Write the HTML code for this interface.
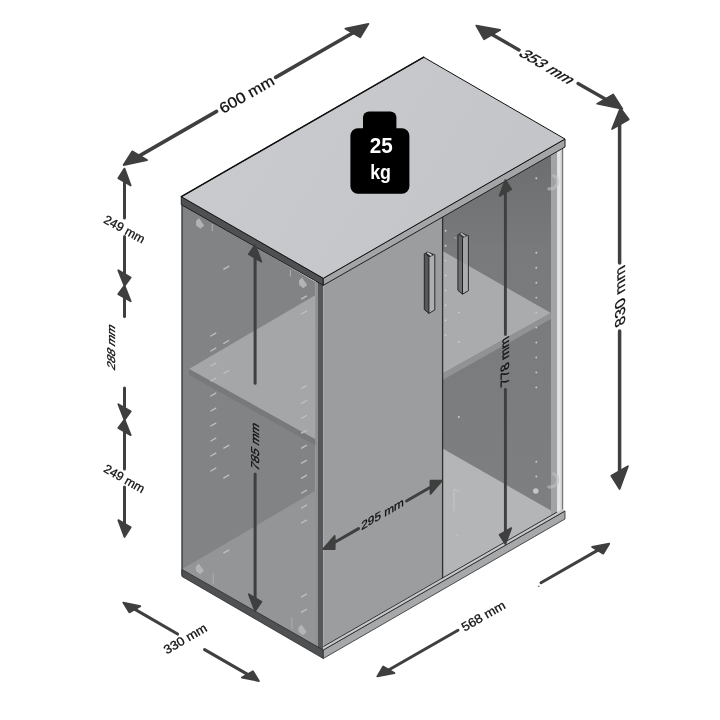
<!DOCTYPE html>
<html><head><meta charset="utf-8"><title>Cabinet dimensions</title>
<style>
html,body{margin:0;padding:0;background:#fff;}
body{width:720px;height:720px;overflow:hidden;font-family:"Liberation Sans",sans-serif;}
svg{display:block;will-change:transform;}
</style></head><body>
<svg width="720" height="720" viewBox="0 0 720 720">
<defs>
<linearGradient id="gri" gradientUnits="userSpaceOnUse" x1="0" y1="160" x2="0" y2="520"><stop offset="0" stop-color="#6c6e70"/><stop offset="0.25" stop-color="#787a7c"/><stop offset="1" stop-color="#7d7f81"/></linearGradient>
<linearGradient id="gtop" gradientUnits="userSpaceOnUse" x1="250" y1="100" x2="480" y2="240"><stop offset="0" stop-color="#c8cacd"/><stop offset="1" stop-color="#c3c5c8"/></linearGradient>
<linearGradient id="gedge" gradientUnits="userSpaceOnUse" x1="557" y1="0" x2="562.2" y2="0"><stop offset="0" stop-color="#dcdee0"/><stop offset="0.5" stop-color="#e2e4e6"/><stop offset="1" stop-color="#c2c4c6"/></linearGradient>
</defs>
<rect width="720" height="720" fill="#fff"/>
<polygon points="182.0,204.5 315.6,281.9 315.6,646.9 182.0,569.5" fill="#818385"/>
<polygon points="189.0,369.0 315.6,294.9 315.6,439.5" fill="#a4a6a8"/>
<polygon points="189.0,369.0 315.6,439.5 315.6,445.5 189.0,375.0" fill="#77797b"/>
<polygon points="183.0,568.5 315.6,490.7 315.6,647.3 183.0,570.5" fill="#939597"/>
<line x1="210.8" y1="336.0" x2="215.8" y2="333.2" stroke="#bdbfc1" stroke-width="1.35" stroke-linecap="round"/>
<line x1="210.8" y1="351.0" x2="215.8" y2="348.2" stroke="#bdbfc1" stroke-width="1.35" stroke-linecap="round"/>
<line x1="210.8" y1="366.0" x2="215.8" y2="363.2" stroke="#bdbfc1" stroke-width="1.35" stroke-linecap="round"/>
<line x1="210.8" y1="381.0" x2="215.8" y2="378.2" stroke="#bdbfc1" stroke-width="1.35" stroke-linecap="round"/>
<line x1="210.8" y1="396.0" x2="215.8" y2="393.2" stroke="#bdbfc1" stroke-width="1.35" stroke-linecap="round"/>
<line x1="210.8" y1="411.0" x2="215.8" y2="408.2" stroke="#bdbfc1" stroke-width="1.35" stroke-linecap="round"/>
<line x1="210.8" y1="426.0" x2="215.8" y2="423.2" stroke="#bdbfc1" stroke-width="1.35" stroke-linecap="round"/>
<line x1="210.8" y1="441.0" x2="215.8" y2="438.2" stroke="#bdbfc1" stroke-width="1.35" stroke-linecap="round"/>
<line x1="210.8" y1="456.0" x2="215.8" y2="453.2" stroke="#bdbfc1" stroke-width="1.35" stroke-linecap="round"/>
<line x1="210.8" y1="471.0" x2="215.8" y2="468.2" stroke="#bdbfc1" stroke-width="1.35" stroke-linecap="round"/>
<line x1="223.8" y1="269.1" x2="228.8" y2="266.3" stroke="#bdbfc1" stroke-width="1.35" stroke-linecap="round"/>
<line x1="223.8" y1="343.3" x2="228.8" y2="340.5" stroke="#bdbfc1" stroke-width="1.35" stroke-linecap="round"/>
<line x1="223.8" y1="373.5" x2="228.8" y2="370.7" stroke="#bdbfc1" stroke-width="1.35" stroke-linecap="round"/>
<line x1="223.8" y1="448.1" x2="228.8" y2="445.3" stroke="#bdbfc1" stroke-width="1.35" stroke-linecap="round"/>
<line x1="223.8" y1="477.9" x2="228.8" y2="475.1" stroke="#bdbfc1" stroke-width="1.35" stroke-linecap="round"/>
<line x1="223.8" y1="552.9" x2="228.8" y2="550.1" stroke="#bdbfc1" stroke-width="1.35" stroke-linecap="round"/>
<line x1="301.5" y1="388.4" x2="306.5" y2="385.6" stroke="#bdbfc1" stroke-width="1.35" stroke-linecap="round"/>
<line x1="301.5" y1="403.3" x2="306.5" y2="400.6" stroke="#bdbfc1" stroke-width="1.35" stroke-linecap="round"/>
<line x1="301.5" y1="418.3" x2="306.5" y2="415.5" stroke="#bdbfc1" stroke-width="1.35" stroke-linecap="round"/>
<line x1="301.5" y1="433.2" x2="306.5" y2="430.5" stroke="#bdbfc1" stroke-width="1.35" stroke-linecap="round"/>
<line x1="301.5" y1="448.2" x2="306.5" y2="445.4" stroke="#bdbfc1" stroke-width="1.35" stroke-linecap="round"/>
<line x1="301.5" y1="463.1" x2="306.5" y2="460.4" stroke="#bdbfc1" stroke-width="1.35" stroke-linecap="round"/>
<line x1="301.5" y1="478.1" x2="306.5" y2="475.3" stroke="#bdbfc1" stroke-width="1.35" stroke-linecap="round"/>
<line x1="301.5" y1="493.0" x2="306.5" y2="490.3" stroke="#bdbfc1" stroke-width="1.35" stroke-linecap="round"/>
<line x1="301.5" y1="508.0" x2="306.5" y2="505.2" stroke="#bdbfc1" stroke-width="1.35" stroke-linecap="round"/>
<line x1="301.5" y1="522.9" x2="306.5" y2="520.2" stroke="#bdbfc1" stroke-width="1.35" stroke-linecap="round"/>
<line x1="301.5" y1="298.9" x2="306.5" y2="296.1" stroke="#bdbfc1" stroke-width="1.35" stroke-linecap="round"/>
<line x1="301.5" y1="313.9" x2="306.5" y2="311.1" stroke="#bdbfc1" stroke-width="1.35" stroke-linecap="round"/>
<line x1="301.5" y1="596.9" x2="306.5" y2="594.1" stroke="#bdbfc1" stroke-width="1.35" stroke-linecap="round"/>
<line x1="301.5" y1="612.2" x2="306.5" y2="609.4" stroke="#bdbfc1" stroke-width="1.35" stroke-linecap="round"/>
<polygon points="196.0,221.0 199.0,218.0 204.2,225.6 200.4,228.8 196.2,225.6" fill="#b6b8ba" opacity="0.9"/>
<line x1="212.3" y1="224" x2="212.3" y2="231" stroke="#a9abad" stroke-width="1.2"/>
<polygon points="299.0,280.4 302.0,277.4 307.2,285.0 303.4,288.2 299.2,285.0" fill="#b6b8ba" opacity="0.9"/>
<line x1="290.4" y1="270" x2="290.4" y2="276.5" stroke="#a9abad" stroke-width="1.2"/>
<polygon points="195.8,566.4 198.8,563.4 204.0,571.0 200.2,574.2 196.0,571.0" fill="#b6b8ba" opacity="0.9"/>
<line x1="213.3" y1="573" x2="213.3" y2="584" stroke="#a9abad" stroke-width="1.2"/>
<polygon points="298.5,627.4 301.5,624.4 306.7,632.0 302.9,635.2 298.7,632.0" fill="#b6b8ba" opacity="0.9"/>
<line x1="291.8" y1="617.5" x2="291.8" y2="629" stroke="#a9abad" stroke-width="1.2"/>
<polyline points="182.0,204.5 182.0,575.5" fill="none" stroke="#3a3c3e" stroke-width="1.4"/>
<polygon points="315.4,280.9 317.6,281.9 317.6,650.0 315.4,648.5" fill="#8c8e90"/>
<polygon points="317.6,281.9 323.3,285.0 323.3,651.0 317.6,649.0" fill="#55575a"/>
<polygon points="442.6,216.6 563.0,147.4 563.0,510.1 442.6,579.3" fill="url(#gri)"/>
<polygon points="442.6,251.0 551.0,313.0 442.6,373.5" fill="#a9abad"/>
<polygon points="442.6,373.5 551.0,313.0 551.0,319.0 442.6,380.0" fill="#909294"/>
<polygon points="442.6,448.5 551.0,510.5 551.0,517.0 442.6,579.3" fill="#b3b5b7"/>
<circle cx="445.6" cy="230.8" r="0.95" fill="#c9cbcd"/>
<circle cx="445.6" cy="245.7" r="0.95" fill="#c9cbcd"/>
<circle cx="445.6" cy="260.6" r="0.95" fill="#c9cbcd"/>
<circle cx="445.6" cy="275.5" r="0.95" fill="#c9cbcd"/>
<circle cx="445.6" cy="290.4" r="0.95" fill="#c9cbcd"/>
<circle cx="445.6" cy="305.3" r="0.95" fill="#c9cbcd"/>
<circle cx="445.6" cy="320.2" r="0.95" fill="#c9cbcd"/>
<circle cx="445.6" cy="335.1" r="0.95" fill="#c9cbcd"/>
<circle cx="458.8" cy="282.7" r="0.95" fill="#c9cbcd"/>
<circle cx="458.8" cy="312.5" r="0.95" fill="#c9cbcd"/>
<circle cx="458.8" cy="342.0" r="0.95" fill="#c9cbcd"/>
<circle cx="458.8" cy="417.0" r="0.95" fill="#c9cbcd"/>
<circle cx="536.3" cy="252.8" r="0.95" fill="#c9cbcd"/>
<circle cx="536.3" cy="267.8" r="0.95" fill="#c9cbcd"/>
<circle cx="536.3" cy="282.7" r="0.95" fill="#c9cbcd"/>
<circle cx="536.3" cy="297.6" r="0.95" fill="#c9cbcd"/>
<circle cx="536.3" cy="312.6" r="0.95" fill="#c9cbcd"/>
<circle cx="536.3" cy="327.6" r="0.95" fill="#c9cbcd"/>
<circle cx="536.3" cy="342.5" r="0.95" fill="#c9cbcd"/>
<circle cx="536.3" cy="357.4" r="0.95" fill="#c9cbcd"/>
<circle cx="536.3" cy="372.4" r="0.95" fill="#c9cbcd"/>
<circle cx="536.3" cy="387.4" r="0.95" fill="#c9cbcd"/>
<circle cx="536.3" cy="178.3" r="0.95" fill="#c9cbcd"/>
<circle cx="536.3" cy="461.7" r="0.95" fill="#c9cbcd"/>
<circle cx="536.3" cy="476.5" r="0.95" fill="#c9cbcd"/>
<circle cx="535.8" cy="491.0" r="2.8" fill="#c4c6c8"/>
<path d="M454,489 l5.5,3 M454,489 l0,22" stroke="#c6c8ca" stroke-width="0.9" fill="none"/>
<path d="M455,534 l4,2.4" stroke="#c9c3bd" stroke-width="0.9" fill="none"/>
<polygon points="551.0,154.3 557.0,150.8 557.0,513.5 551.0,517.0" fill="#a1a3a5"/>
<polygon points="557.0,150.8 562.2,147.8 562.2,510.5 557.0,513.5" fill="url(#gedge)"/>
<polygon points="562.2,147.8 563.2,147.2 563.2,509.9 562.2,510.5" fill="#707274"/>
<path d="M553.6,175.6 q5.2,2.6 3.8,8.2 q-2.2,5.6 -8.6,5.0" fill="none" stroke="#bfc1c3" stroke-width="3.2" stroke-linecap="round" opacity="0.6"/>
<path d="M553.6,473.8 q5.2,2.6 3.8,8.2 q-2.2,5.6 -8.6,5.0" fill="none" stroke="#bfc1c3" stroke-width="3.2" stroke-linecap="round" opacity="0.6"/>
<polygon points="323.3,285.3 442.6,216.6 442.6,577.8 323.3,646.5" fill="#9b9d9f"/>
<line x1="442.6" y1="216.6" x2="442.6" y2="579.3" stroke="#2e3032" stroke-width="1.3"/>
<polygon points="182.0,569.5 323.3,650.0 323.3,658.5 182.0,576.5" fill="#4f5153" stroke="#2a2c2e" stroke-width="0.8"/>
<polygon points="323.3,650.0 565.0,511.0 565.0,519.0 323.3,658.5" fill="#a6a8aa" stroke="#2a2c2e" stroke-width="0.8"/>
<polygon points="323.3,646.8 562.5,509.2 565.0,511.0 323.3,650.0" fill="#c6c8ca"/>
<line x1="323.3" y1="646.6" x2="557" y2="512.1" stroke="#303234" stroke-width="1.0"/>
<line x1="323.3" y1="650.0" x2="565.0" y2="511.0" stroke="#303234" stroke-width="1.0"/>
<polygon points="181.3,196.7 323.3,278.3 323.3,285.3 181.3,204.7" fill="#4e5052" stroke="#1c1e20" stroke-width="1"/>
<polygon points="323.3,278.3 565.0,139.0 565.0,147.0 323.3,285.3" fill="#a3a5a7" stroke="#1c1e20" stroke-width="1"/>
<polygon points="181.3,196.7 423.7,57.2 565.0,139.0 323.3,278.3" fill="url(#gtop)" stroke="#111" stroke-width="1"/>
<line x1="181.3" y1="196.7" x2="423.7" y2="57.2" stroke="#111" stroke-width="1.5" stroke-linecap="round"/>
<g opacity="1.0"><polygon points="424.3,253.5 428.9,257.4 428.9,313.4 424.3,309.5" fill="#55575a"/><polygon points="428.9,257.4 434.8,254.5 434.8,309.9 428.9,313.4" fill="#adafb1"/><polygon points="424.3,253.5 427.4,251.5 434.8,254.5 428.9,257.4" fill="#2a2c2e"/><polygon points="426.5,252.9 427.9,252.3 432.3,255.1 430.7,255.9" fill="#d4d6d8"/></g><path d="M424.3,253.5 L424.3,309.5 L428.9,313.4 L434.8,309.9 L434.8,254.5" fill="none" stroke="#1c1e20" stroke-width="0.9"/><line x1="428.9" y1="257.4" x2="428.9" y2="313.4" stroke="#1c1e20" stroke-width="1.0"/>
<g opacity="0.78"><polygon points="457.9,234.3 462.5,238.2 462.5,294.2 457.9,290.3" fill="#5d5f61"/><polygon points="462.5,238.2 468.4,235.3 468.4,290.7 462.5,294.2" fill="#acaeb0"/><polygon points="457.9,234.3 461.0,232.3 468.4,235.3 462.5,238.2" fill="#2a2c2e"/><polygon points="460.1,233.7 461.5,233.1 465.9,235.9 464.3,236.7" fill="#d4d6d8"/></g><path d="M457.9,234.3 L457.9,290.3 L462.5,294.2 L468.4,290.7 L468.4,235.3" fill="none" stroke="#1c1e20" stroke-width="0.9"/><line x1="462.5" y1="238.2" x2="462.5" y2="294.2" stroke="#1c1e20" stroke-width="1.0"/>
<path d="M454.0,237.4 l2.6,1.2 M454.0,281.8 l2.6,1.2" stroke="#a9abad" stroke-width="1" fill="none"/>
<rect x="363" y="111.6" width="33.4" height="30" rx="6" fill="#000"/>
<rect x="350.4" y="128.3" width="59" height="65.4" rx="7.5" fill="#000"/>
<text x="381.2" y="152.6" font-family="Liberation Sans, sans-serif" font-weight="bold" font-size="21.2" fill="#fff" text-anchor="middle" textLength="23" lengthAdjust="spacingAndGlyphs">25</text>
<text x="380.6" y="179.4" font-family="Liberation Sans, sans-serif" font-weight="bold" font-size="21" fill="#fff" text-anchor="middle" textLength="20.8" lengthAdjust="spacingAndGlyphs">kg</text>
<line x1="137.6" y1="156.9" x2="216.6" y2="111.4" stroke="#3f3f3f" stroke-width="3.6" stroke-linecap="round"/>
<line x1="275.6" y1="77.4" x2="354.4" y2="32.0" stroke="#3f3f3f" stroke-width="3.6" stroke-linecap="round"/>
<polygon points="123.6,165.0 147.0,160.1 132.2,151.4" fill="#3f3f3f" stroke="#3f3f3f" stroke-width="1.8" stroke-linejoin="round"/>
<polygon points="368.4,23.9 360.2,37.2 345.4,28.6" fill="#3f3f3f" stroke="#3f3f3f" stroke-width="1.8" stroke-linejoin="round"/>
<text transform="matrix(0.9709,-0.5583,0.4985,0.8669,246.6,94.2)" y="5.40" font-family="Liberation Sans, sans-serif" font-size="15" fill="#111" stroke="#111" stroke-width="0.3" text-anchor="middle">600 mm</text>
<line x1="490.3" y1="33.6" x2="519.0" y2="49.9" stroke="#3f3f3f" stroke-width="3.4" stroke-linecap="round"/>
<line x1="578.0" y1="83.6" x2="607.4" y2="100.3" stroke="#3f3f3f" stroke-width="3.4" stroke-linecap="round"/>
<polygon points="476.3,25.6 500.1,30.0 484.1,39.2" fill="#3f3f3f" stroke="#3f3f3f" stroke-width="1.8" stroke-linejoin="round"/>
<polygon points="622.4,108.9 613.2,94.5 597.2,103.7" fill="#3f3f3f" stroke="#3f3f3f" stroke-width="1.8" stroke-linejoin="round"/>
<text transform="matrix(1.0000,0.5850,-1.0000,0.5765,547.8,66.6)" y="5.04" font-family="Liberation Sans, sans-serif" font-size="14.0" fill="#111" stroke="#111" stroke-width="0.3" text-anchor="middle">353 mm</text>
<line x1="619.6" y1="123.0" x2="619.6" y2="263.0" stroke="#3f3f3f" stroke-width="3.5" stroke-linecap="round"/>
<line x1="619.6" y1="331.0" x2="619.6" y2="472.0" stroke="#3f3f3f" stroke-width="3.5" stroke-linecap="round"/>
<polygon points="620.4,108.2 628.7,119.4 612.1,129.0" fill="#3f3f3f" stroke="#3f3f3f" stroke-width="1.8" stroke-linejoin="round"/>
<polygon points="619.6,489.0 627.9,466.2 611.3,475.8" fill="#3f3f3f" stroke="#3f3f3f" stroke-width="1.8" stroke-linejoin="round"/>
<text transform="matrix(0.0000,-1.1300,0.9800,-0.5650,619.4,296.7)" y="5.26" font-family="Liberation Sans, sans-serif" font-size="14.6" fill="#111" stroke="#111" stroke-width="0.3" text-anchor="middle">830 mm</text>
<polygon points="124.5,168.6 130.7,185.5 118.3,178.3" fill="#3f3f3f" stroke="#3f3f3f" stroke-width="1.8" stroke-linejoin="round"/>
<line x1="124.5" y1="181.0" x2="124.5" y2="218.0" stroke="#3f3f3f" stroke-width="3.0" stroke-linecap="round"/>
<line x1="124.5" y1="236.5" x2="124.5" y2="273.0" stroke="#3f3f3f" stroke-width="3.0" stroke-linecap="round"/>
<polygon points="124.5,286.0 130.7,277.5 118.3,270.3" fill="#3f3f3f" stroke="#3f3f3f" stroke-width="1.8" stroke-linejoin="round"/>
<polygon points="124.5,285.6 130.7,301.3 118.3,294.1" fill="#3f3f3f" stroke="#3f3f3f" stroke-width="1.8" stroke-linejoin="round"/>
<line x1="124.5" y1="298.0" x2="124.5" y2="316.5" stroke="#3f3f3f" stroke-width="3.0" stroke-linecap="round"/>
<text transform="matrix(0.8788,0.4772,-0.4772,0.8788,124.6,229.0)" y="4.46" font-family="Liberation Sans, sans-serif" font-size="12.4" fill="#111" stroke="#111" stroke-width="0.3" text-anchor="middle">249 mm</text>
<text transform="matrix(0.0000,-1.1000,1.0000,0.5850,111.0,346.5)" y="4.03" font-family="Liberation Sans, sans-serif" font-size="11.2" fill="#111" stroke="#111" stroke-width="0.3" text-anchor="middle">288 mm</text>
<line x1="124.5" y1="388.0" x2="124.5" y2="407.0" stroke="#3f3f3f" stroke-width="3.0" stroke-linecap="round"/>
<polygon points="124.5,419.9 130.7,411.4 118.3,404.2" fill="#3f3f3f" stroke="#3f3f3f" stroke-width="1.8" stroke-linejoin="round"/>
<polygon points="124.5,419.5 130.7,435.2 118.3,428.0" fill="#3f3f3f" stroke="#3f3f3f" stroke-width="1.8" stroke-linejoin="round"/>
<line x1="124.5" y1="432.0" x2="124.5" y2="469.0" stroke="#3f3f3f" stroke-width="3.0" stroke-linecap="round"/>
<text transform="matrix(0.8704,0.4924,-0.4924,0.8704,124.4,478.4)" y="4.46" font-family="Liberation Sans, sans-serif" font-size="12.4" fill="#111" stroke="#111" stroke-width="0.3" text-anchor="middle">249 mm</text>
<line x1="124.5" y1="487.0" x2="124.5" y2="524.0" stroke="#3f3f3f" stroke-width="3.0" stroke-linecap="round"/>
<polygon points="124.5,537.0 130.7,527.3 118.3,520.1" fill="#3f3f3f" stroke="#3f3f3f" stroke-width="1.8" stroke-linejoin="round"/>
<line x1="133.3" y1="608.4" x2="177.6" y2="634.0" stroke="#3f3f3f" stroke-width="3.1" stroke-linecap="round"/>
<line x1="204.6" y1="649.6" x2="248.9" y2="675.2" stroke="#3f3f3f" stroke-width="3.1" stroke-linecap="round"/>
<polygon points="123.3,602.6 140.3,606.1 129.3,612.4" fill="#3f3f3f" stroke="#3f3f3f" stroke-width="1.8" stroke-linejoin="round"/>
<polygon points="258.9,681.0 252.9,671.2 241.9,677.5" fill="#3f3f3f" stroke="#3f3f3f" stroke-width="1.8" stroke-linejoin="round"/>
<text transform="matrix(0.9219,-0.5431,0.5075,0.8616,185.2,638.6)" y="4.46" font-family="Liberation Sans, sans-serif" font-size="12.4" fill="#111" stroke="#111" stroke-width="0.3" text-anchor="middle">330 mm</text>
<line x1="387.3" y1="670.7" x2="458.0" y2="630.2" stroke="#3f3f3f" stroke-width="3.0" stroke-linecap="round"/>
<line x1="541.0" y1="582.7" x2="599.2" y2="549.4" stroke="#3f3f3f" stroke-width="3.0" stroke-linecap="round"/>
<polygon points="377.3,676.4 394.4,673.1 383.2,666.5" fill="#3f3f3f" stroke="#3f3f3f" stroke-width="1.8" stroke-linejoin="round"/>
<polygon points="609.2,543.7 603.3,553.6 592.1,547.0" fill="#3f3f3f" stroke="#3f3f3f" stroke-width="1.8" stroke-linejoin="round"/>
<text transform="matrix(0.9372,-0.5367,0.4970,0.8678,483.2,615.8)" y="4.46" font-family="Liberation Sans, sans-serif" font-size="12.4" fill="#111" stroke="#111" stroke-width="0.3" text-anchor="middle">568 mm</text>
<circle cx="538.8" cy="586.3" r="0.8" fill="#555"/>
<line x1="255.1" y1="257.0" x2="255.1" y2="383.3" stroke="#3f3f3f" stroke-width="3.0" stroke-linecap="round"/>
<line x1="255.1" y1="474.0" x2="255.1" y2="599.0" stroke="#3f3f3f" stroke-width="3.0" stroke-linecap="round"/>
<polygon points="255.1,245.0 261.4,261.7 248.8,254.3" fill="#3f3f3f" stroke="#3f3f3f" stroke-width="1.8" stroke-linejoin="round"/>
<polygon points="255.1,611.0 261.4,601.7 248.8,594.3" fill="#3f3f3f" stroke="#3f3f3f" stroke-width="1.8" stroke-linejoin="round"/>
<text transform="matrix(0.0000,-1.1300,1.0000,0.5850,254.8,446.0)" y="4.10" font-family="Liberation Sans, sans-serif" font-size="11.4" fill="#111" stroke="#111" stroke-width="0.3" text-anchor="middle">785 mm</text>
<line x1="505.4" y1="194.0" x2="505.4" y2="334.5" stroke="#3f3f3f" stroke-width="2.9" stroke-linecap="round"/>
<line x1="505.4" y1="389.5" x2="505.4" y2="531.0" stroke="#3f3f3f" stroke-width="2.9" stroke-linecap="round"/>
<polygon points="505.4,180.0 511.2,189.3 499.6,195.9" fill="#3f3f3f" stroke="#3f3f3f" stroke-width="1.8" stroke-linejoin="round"/>
<polygon points="505.4,544.0 511.2,528.1 499.6,534.7" fill="#3f3f3f" stroke="#3f3f3f" stroke-width="1.8" stroke-linejoin="round"/>
<text transform="matrix(0.0000,-1.1200,1.0000,-0.5765,505.0,361.7)" y="4.32" font-family="Liberation Sans, sans-serif" font-size="12.0" fill="#111" stroke="#111" stroke-width="0.3" text-anchor="middle">778 mm</text>
<line x1="332.2" y1="543.8" x2="358.6" y2="528.6" stroke="#3f3f3f" stroke-width="3.0" stroke-linecap="round"/>
<line x1="406.5" y1="501.0" x2="433.0" y2="485.8" stroke="#3f3f3f" stroke-width="3.0" stroke-linecap="round"/>
<polygon points="323.2,549.0 334.7,549.0 334.7,535.8" fill="#3f3f3f" stroke="#3f3f3f" stroke-width="1.8" stroke-linejoin="round"/>
<polygon points="442.0,480.6 430.5,493.8 430.5,480.6" fill="#3f3f3f" stroke="#3f3f3f" stroke-width="1.8" stroke-linejoin="round"/>
<text transform="matrix(1.0000,-0.5765,0.0000,1.0000,382.6,513.6)" y="4.25" font-family="Liberation Sans, sans-serif" font-size="11.8" fill="#111" stroke="#111" stroke-width="0.3" text-anchor="middle">295 mm</text>
</svg>
</body></html>
